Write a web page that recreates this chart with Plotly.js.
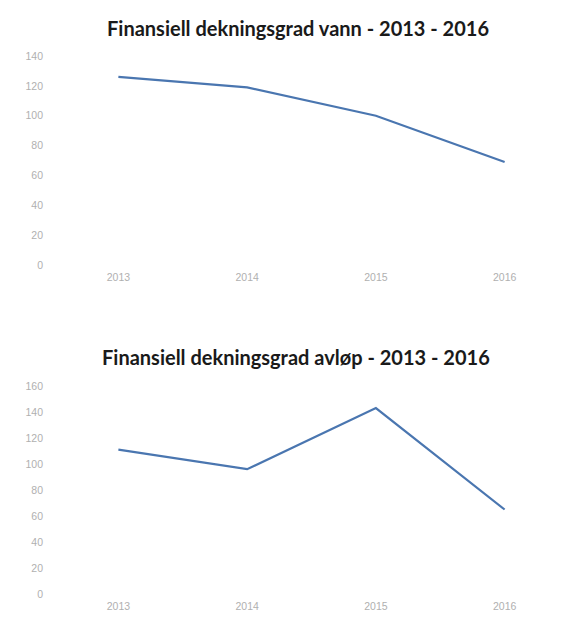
<!DOCTYPE html>
<html>
<head>
<meta charset="utf-8">
<script src="https://cdn.plot.ly/plotly-3.0.1.min.js"></script>
<style>html,body{margin:0;padding:0;background:#fff;}#chart{width:581px;height:623px;}</style>
</head>
<body>
<div id="chart"></div>
<script>
const years = ["2013", "2014", "2015", "2016"];
const vann = [126, 119, 100, 69];
const avlop = [111, 96, 143, 65];
const titleVann = "Finansiell dekningsgrad vann - 2013 - 2016";
const titleAvlop = "Finansiell dekningsgrad avløp - 2013 - 2016";

const lineColor = "#4a76b0";
const tickFont = {family: "Liberation Sans", size: 10.5, color: "#b0b0b0"};

const traces = [
  {x: years, y: vann, type: "scatter", mode: "lines", line: {color: lineColor, width: 2.2}, xaxis: "x", yaxis: "y", hoverinfo: "skip"},
  {x: years, y: avlop, type: "scatter", mode: "lines", line: {color: lineColor, width: 2.2}, xaxis: "x2", yaxis: "y2", hoverinfo: "skip"}
];

const xax = {type: "category", range: [-0.5, 3.5], showgrid: false, zeroline: false, showline: false, ticks: "", tickfont: tickFont, ticklabelstandoff: 4};
const yax = {dtick: 20, showgrid: false, zeroline: false, showline: false, tickfont: tickFont, ticks: "", ticklabelstandoff: 10};
const titleFont = {family: "Lato", size: 20, color: "#1a1a1a"};
const layout = {
  width: 581, height: 623,
  margin: {l: 54, r: 12, t: 56, b: 29},
  paper_bgcolor: "#fff", plot_bgcolor: "#fff",
  showlegend: false,
  xaxis: Object.assign({}, xax, {anchor: "y"}),
  xaxis2: Object.assign({}, xax, {anchor: "y2"}),
  yaxis: Object.assign({}, yax, {domain: [0.6115, 1], range: [0, 140]}),
  yaxis2: Object.assign({}, yax, {domain: [0, 0.3866], range: [0, 160]}),
  annotations: [
    {text: "<b>" + titleVann + "</b>", xref: "paper", yref: "paper", x: 0.474, y: 1, xanchor: "center", yanchor: "middle", yshift: 28, showarrow: false, font: titleFont},
    {text: "<b>" + titleAvlop + "</b>", xref: "paper", yref: "paper", x: 0.470, y: 0.3866, xanchor: "center", yanchor: "middle", yshift: 29, showarrow: false, font: titleFont}
  ]
};

Plotly.newPlot("chart", traces, layout, {displayModeBar: false, staticPlot: true});
</script>
</body>
</html>
